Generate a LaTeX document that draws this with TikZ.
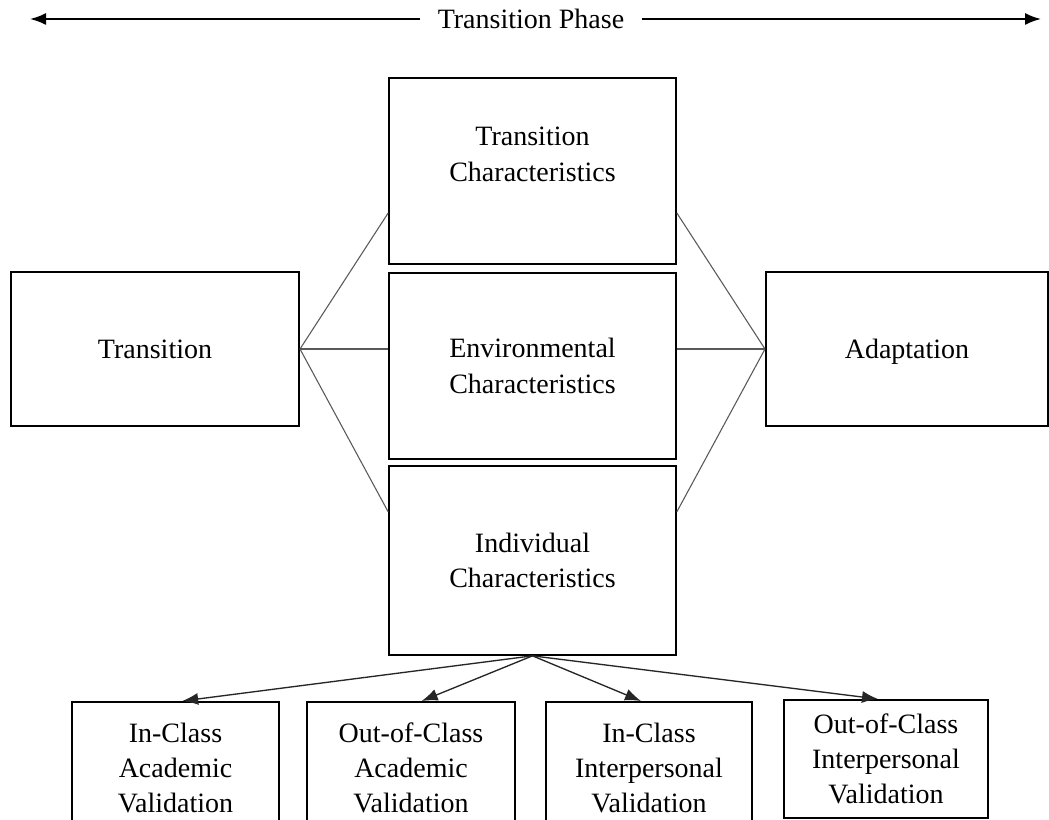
\documentclass[tikz,border=0pt]{standalone}
\usepackage{fontspec}
\setmainfont{Liberation Serif}
\usetikzlibrary{arrows.meta,positioning}
\begin{document}
\begin{tikzpicture}[x=0.75pt,y=-0.75pt,
  box/.style={draw=black,line width=1.5pt,rectangle,align=center,inner sep=0pt,
    font=\fontsize{21pt}{26.5pt}\selectfont,fill=white},
  link/.style={draw=black!65,line width=0.8pt},
  arr/.style={draw=black!85,line width=1pt,-{Latex[length=12pt,width=9pt]}},
  phase/.style={draw=black,line width=1.4pt,-{Latex[length=12pt,width=9pt]}}]
\clip (0,0) rectangle (1049,820);
\fill[white] (0,0) rectangle (1049,820);
% top arrow
\node[font=\fontsize{21pt}{26.5pt}\selectfont,inner xsep=13pt,inner ysep=0pt] (tp) at (531,19) {Transition Phase};
\coordinate (pl) at (30,19);
\coordinate (pr) at (1041,19);
\draw[phase] (tp.west) -- (pl);
\draw[phase] (tp.east) -- (pr);
% main boxes
\node[box,minimum width=215pt,minimum height=139.5pt,text depth=25pt] (tc) at (532.5,171) {Transition\\Characteristics};
\node[box,minimum width=215pt,minimum height=139.5pt] (ec) at (532.5,366) {Environmental\\Characteristics};
\node[box,minimum width=215pt,minimum height=141.5pt] (ic) at (532.5,560.5) {Individual\\Characteristics};
\node[box,minimum width=216pt,minimum height=115.5pt] (tr) at (155,349) {Transition};
\node[box,minimum width=211.5pt,minimum height=115.5pt,text depth=0pt] (ad) at (907,349) {Adaptation};
% connectors left
\draw[link] (tr.east) -- ([yshift=39pt]tc.south west);
\draw[link] (tr.east) -- (ec.west |- tr.east);
\draw[link] (tr.east) -- ([yshift=-35pt]ic.north west);
% connectors right
\draw[link] ([yshift=39pt]tc.south east) -- (ad.west);
\draw[link] (ec.east |- ad.west) -- (ad.west);
\draw[link] ([yshift=-35pt]ic.north east) -- (ad.west);
% bottom boxes
\node[box,minimum width=155pt,minimum height=99pt] (b1) at (175.5,768) {In-Class\\Academic\\Validation};
\node[box,minimum width=156pt,minimum height=99pt] (b2) at (411,768) {Out-of-Class\\Academic\\Validation};
\node[box,minimum width=154.5pt,minimum height=99pt] (b3) at (649,768) {In-Class\\Interpersonal\\Validation};
\node[box,minimum width=153pt,minimum height=88.5pt] (b4) at (886,759) {Out-of-Class\\Interpersonal\\Validation};
% arrows
\draw[arr] (ic.south) -- ([xshift=5pt]b1.north);
\draw[arr] (ic.south) -- ([xshift=8pt]b2.north);
\draw[arr] (ic.south) -- ([xshift=-6pt]b3.north);
\draw[arr] (ic.south) -- ([xshift=-6pt]b4.north);
\end{tikzpicture}
\end{document}
